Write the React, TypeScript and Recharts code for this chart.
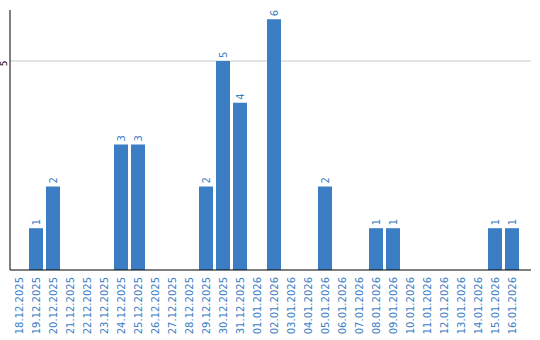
import { BarChart, Bar, XAxis, YAxis, CartesianGrid, LabelList } from "recharts";

const dates = [
  "18.12.2025", "19.12.2025", "20.12.2025", "21.12.2025", "22.12.2025",
  "23.12.2025", "24.12.2025", "25.12.2025", "26.12.2025", "27.12.2025",
  "28.12.2025", "29.12.2025", "30.12.2025", "31.12.2025", "01.01.2026",
  "02.01.2026", "03.01.2026", "04.01.2026", "05.01.2026", "06.01.2026",
  "07.01.2026", "08.01.2026", "09.01.2026", "10.01.2026", "11.01.2026",
  "12.01.2026", "13.01.2026", "14.01.2026", "15.01.2026", "16.01.2026",
];
const counts = [0, 1, 2, 0, 0, 0, 3, 3, 0, 0, 0, 2, 5, 4, 0, 6, 0, 0, 2, 0, 0, 1, 1, 0, 0, 0, 0, 0, 1, 1];
const yTicks = [5];

const data = dates.map((d, i) => ({ date: d, value: counts[i] }));

const BLUE = "#3b7ec4";
const FONT = "'DejaVu Sans', sans-serif";

const renderDateTick = ({ x, payload }: any) => (
  <text
    key={payload.value}
    transform={`translate(${x + 4},277) rotate(-90)`}
    textAnchor="end"
    fill={BLUE}
    fontSize={10}
    fontFamily={FONT}
  >
    {payload.value}
  </text>
);

// rotated y tick label, just left of the axis line
const renderCountTick = (props: any) => {
  const tx = props.x + 5;
  const ty = props.y + 2.5;
  return (
    <text
      key={String(props.payload.value)}
      x={tx}
      y={ty}
      transform={`rotate(-90, ${tx}, ${ty})`}
      textAnchor="middle"
      fill="#000"
      fontSize={9}
      fontFamily={FONT}
    >
      {props.payload.value}
    </text>
  );
};

const ValueLabel = ({ x, y, width, value }: any) => {
  if (!value) return null;
  return (
    <text
      transform={`translate(${x + width / 2 + 4},${y - 3}) rotate(-90)`}
      textAnchor="start"
      fill={BLUE}
      fontSize={10}
      fontFamily={FONT}
    >
      {value}
    </text>
  );
};

export default function App() {
  return (
    <div style={{ position: "absolute", left: 0, top: 0, background: "#fff", width: 540, height: 340 }}>
      <BarChart
        width={540}
        height={340}
        data={data}
        margin={{ top: 10, right: 9, bottom: 0, left: 0 }}
        style={{ overflow: "visible" }}
      >
        <CartesianGrid vertical={false} stroke="#c8c8c8" horizontalValues={yTicks} />
        <XAxis
          dataKey="date"
          interval={0}
          height={70}
          tick={renderDateTick}
          tickLine={false}
          axisLine={{ stroke: "#000" }}
          padding={{ left: 0, right: 11 }}
        />
        <YAxis
          width={10}
          domain={[0, 6.22]}
          ticks={yTicks}
          interval={0}
          tick={renderCountTick}
          tickLine={false}
          axisLine={{ stroke: "#000" }}
        />
        <Bar dataKey="value" fill={BLUE} barSize={14} isAnimationActive={false}>
          <LabelList dataKey="value" content={<ValueLabel />} />
        </Bar>
      </BarChart>
    </div>
  );
}
